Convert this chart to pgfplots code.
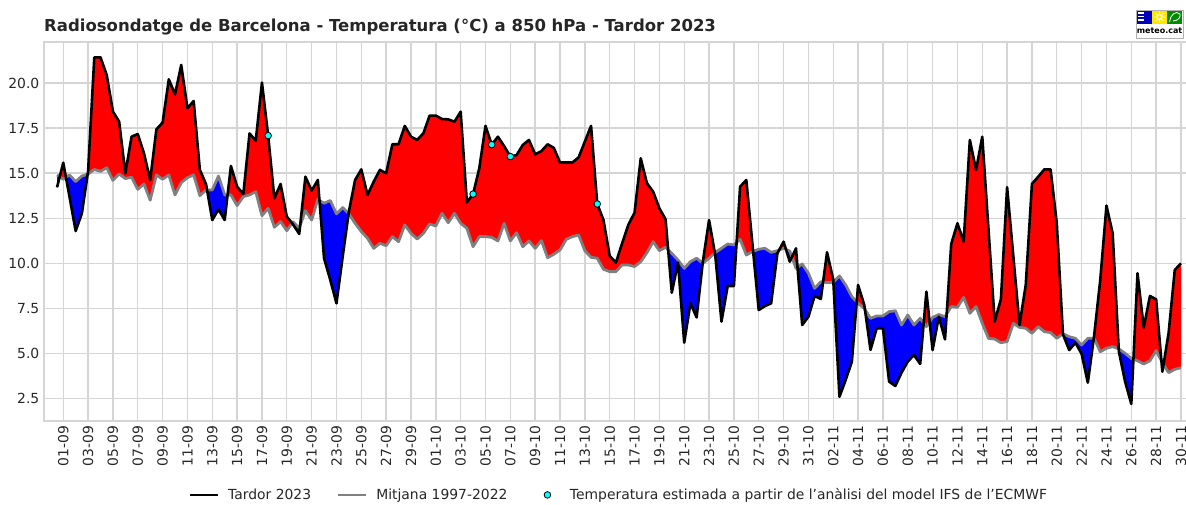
\documentclass[border=0pt]{standalone}
\usepackage{fontspec}
\setmainfont{DejaVu Sans}
\usepackage{pgfplots}
\usepackage{pgfplotstable}
\pgfplotsset{compat=1.18}
\usepgfplotslibrary{fillbetween}
\definecolor{gridc}{HTML}{D5D5D5}
\definecolor{txtc}{HTML}{262626}
\definecolor{meanc}{HTML}{808080}
\definecolor{cyanc}{RGB}{0,255,255}
\definecolor{redc}{RGB}{255,0,0}
\definecolor{bluec}{RGB}{0,0,255}

\pgfplotstableread{
d obs mean
-0.5 14.21 14.90
0.0 15.58 14.66
0.5 13.70 14.90
1.0 11.79 14.53
1.5 12.77 14.84
2.0 15.10 14.95
2.5 21.42 15.20
3.0 21.42 15.10
3.5 20.44 15.30
4.0 18.41 14.60
4.5 17.86 14.95
5.0 14.99 14.70
5.5 17.02 14.77
6.0 17.17 14.10
6.5 16.10 14.40
7.0 14.62 13.50
7.5 17.43 14.90
8.0 17.80 14.66
8.5 20.20 14.90
9.0 19.37 13.79
9.5 21.00 14.47
10.0 18.60 14.75
10.5 19.00 14.90
11.0 15.18 13.75
11.5 14.38 14.07
12.0 12.40 14.07
12.5 12.99 14.84
13.0 12.40 13.79
13.5 15.40 13.79
14.0 14.25 13.20
14.5 13.84 13.70
15.0 17.20 13.79
15.5 16.80 13.97
16.0 20.02 12.64
16.5 17.08 13.05
17.0 13.60 12.00
17.5 14.40 12.31
18.0 12.59 11.81
18.5 12.16 12.30
19.0 11.63 11.95
19.5 14.80 12.92
20.0 14.03 12.40
20.5 14.62 13.55
21.0 10.28 13.33
21.5 9.08 13.48
22.0 7.78 12.74
22.5 10.37 13.09
23.0 12.87 12.74
23.5 14.62 12.22
24.0 15.21 11.76
24.5 13.79 11.39
25.0 14.53 10.83
25.5 15.18 11.11
26.0 14.99 10.98
26.5 16.60 11.48
27.0 16.60 11.20
27.5 17.62 12.13
28.0 17.02 11.66
28.5 16.84 11.35
29.0 17.21 11.66
29.5 18.19 12.18
30.0 18.19 12.07
30.5 18.00 12.77
31.0 17.98 12.25
31.5 17.85 12.77
32.0 18.41 12.22
32.5 13.38 11.94
33.0 13.84 10.92
33.5 15.27 11.48
34.0 17.62 11.48
34.5 16.58 11.44
35.0 17.02 11.24
35.5 16.50 12.22
36.0 15.92 11.24
36.5 16.00 11.70
37.0 16.56 10.92
37.5 16.84 11.24
38.0 16.04 10.83
38.5 16.22 11.26
39.0 16.60 10.31
39.5 16.40 10.50
40.0 15.59 10.74
40.5 15.59 11.33
41.0 15.59 11.48
41.5 15.88 11.57
42.0 16.75 10.70
42.5 17.62 10.33
43.0 13.29 10.28
43.5 12.40 9.67
44.0 10.41 9.54
44.5 10.04 9.54
45.0 11.11 9.91
45.5 12.13 9.91
46.0 12.81 9.82
46.5 15.82 10.09
47.0 14.44 10.59
47.5 13.97 11.20
48.0 13.05 10.70
48.5 12.44 10.89
49.0 8.37 10.55
49.5 10.04 10.18
50.0 5.60 9.72
50.5 7.78 10.09
51.0 7.00 10.28
51.5 10.09 10.00
52.0 12.40 10.28
52.5 10.45 10.60
53.0 6.77 10.83
53.5 8.74 11.07
54.0 8.74 11.02
54.5 14.25 11.33
55.0 14.62 10.46
55.5 11.02 10.65
56.0 7.41 10.78
56.5 7.63 10.83
57.0 7.78 10.61
57.5 10.55 10.70
58.0 11.20 10.83
58.5 10.09 10.68
59.0 10.83 9.72
59.5 6.58 9.96
60.0 7.04 9.45
60.5 8.19 8.61
61.0 8.02 8.98
61.5 10.61 8.93
62.0 9.10 8.95
62.5 2.60 9.30
63.0 3.53 8.80
63.5 4.55 8.15
64.0 8.80 7.78
64.5 7.69 7.50
65.0 5.20 6.95
65.5 6.40 7.08
66.0 6.40 7.08
66.5 3.44 7.32
67.0 3.20 7.37
67.5 3.94 6.58
68.0 4.55 7.13
68.5 4.92 6.58
69.0 4.42 6.95
69.5 8.43 6.49
70.0 5.19 7.00
70.5 7.04 7.16
71.0 5.78 7.04
71.5 11.07 7.60
72.0 12.22 7.56
72.5 11.20 8.11
73.0 16.84 7.23
73.5 15.18 7.60
74.0 17.02 6.67
74.5 11.90 5.84
75.0 6.77 5.80
75.5 8.01 5.60
76.0 14.22 5.66
76.5 10.40 6.67
77.0 6.58 6.45
77.5 8.80 6.40
78.0 14.40 6.12
78.5 14.80 6.49
79.0 15.21 6.21
79.5 15.21 6.16
80.0 12.22 5.84
80.5 6.05 6.10
81.0 5.19 5.93
81.5 5.60 5.84
82.0 4.98 5.47
82.5 3.38 5.84
83.0 5.95 5.85
83.5 9.08 5.10
84.0 13.20 5.29
84.5 11.66 5.38
85.0 5.10 5.25
85.5 3.44 5.01
86.0 2.20 4.73
86.5 9.45 4.60
87.0 6.43 4.42
87.5 8.19 4.60
88.0 8.00 5.16
88.5 3.99 4.49
89.0 6.12 3.94
89.5 9.63 4.12
90.0 10.00 4.21
}\sondes

\pgfplotstableread{
d t
16.5 17.08
33.0 13.84
34.5 16.58
36.0 15.92
43.0 13.29
}\ifs

\begin{document}
\begin{tikzpicture}
\begin{axis}[
  at={(44pt,83pt)}, anchor=south west,
  scale only axis, width=1150pt, height=379pt,
  xmin=-1.55, xmax=91.05, ymin=1.258, ymax=22.27,
  axis line style={draw=gridc, line width=1.7pt},
  grid=major, major grid style={draw=gridc, line width=1.4pt},
  major tick length=0pt,
  xtick={0,2,...,90},
  xticklabels={01-09,03-09,05-09,07-09,09-09,11-09,13-09,15-09,17-09,19-09,21-09,23-09,25-09,27-09,29-09,
    01-10,03-10,05-10,07-10,09-10,11-10,13-10,15-10,17-10,19-10,21-10,23-10,25-10,27-10,29-10,31-10,
    02-11,04-11,06-11,08-11,10-11,12-11,14-11,16-11,18-11,20-11,22-11,24-11,26-11,28-11,30-11},
  ytick={2.5,5,7.5,10,12.5,15,17.5,20},
  yticklabels={2.5,5.0,7.5,10.0,12.5,15.0,17.5,20.0},
  ticklabel style={font=\fontsize{13.9}{16}\selectfont, text=txtc},
  xticklabel style={rotate=90, anchor=east, inner sep=4.5pt},
  yticklabel style={anchor=east, inner sep=4.5pt},
  legend style={at={(0.5,-0.195)}, anchor=center, draw=none, fill=none,
    font=\fontsize{13.9}{16}\selectfont, text=txtc,
    legend columns=3,
    /tikz/every odd column/.append style={column sep=6.5pt},
    /tikz/every even column/.append style={column sep=24pt}},
  legend cell align=left,
]
\addplot[draw=none, name path=obs, forget plot] table[x=d, y=obs]{\sondes};
\addplot[draw=none, name path=mean, forget plot] table[x=d, y=mean]{\sondes};
\addplot[forget plot] fill between[of=obs and mean, split,
   every even segment/.style={fill=bluec},
   every odd segment/.style={fill=redc}];
\addplot[color=meanc, line width=2.8pt, line join=round, forget plot] table[x=d, y=mean]{\sondes};
\addplot[color=black, line width=2.6pt, line join=round, forget plot] table[x=d, y=obs]{\sondes};
\addplot[only marks, mark=*, mark size=3.3pt, mark options={fill=cyanc, draw=black, line width=0.8pt}, forget plot] table[x=d, y=t]{\ifs};

\addlegendimage{black, line width=2.6pt, legend image code/.code={\draw[black, line width=2.6pt] (0pt,0pt) -- (28pt,0pt);}}
\addlegendentry{Tardor 2023}
\addlegendimage{meanc, line width=2.6pt, legend image code/.code={\draw[meanc, line width=2.6pt] (0pt,0pt) -- (28pt,0pt);}}
\addlegendentry{Mitjana 1997-2022}
\addlegendimage{draw=none, legend image code/.code={\path[draw=none, fill=none] (0pt,-1pt) rectangle (28pt,1pt); \path[fill=cyanc, draw=black, line width=0.8pt] (14pt,0pt) circle (3.3pt);}}
\addlegendentry{Temperatura estimada a partir de l'anàlisi del model IFS de l'ECMWF}
\end{axis}

\node[anchor=base west, inner sep=0pt, text=txtc, font=\bfseries\fontsize{16.5}{20}\selectfont] at (44pt,472.5pt)
  {Radiosondatge de Barcelona - Temperatura (°C) a 850 hPa - Tardor 2023};

% meteo.cat logo
\fill[white] (1136.5pt,466pt) rectangle (1183pt,494pt);
\fill[blue!75!black] (1137pt,480pt) rectangle (1152pt,494pt);
\fill[white] (1138pt,490pt) rectangle (1144pt,491.5pt);
\fill[white] (1138pt,486.5pt) rectangle (1144pt,488pt);
\fill[white] (1138pt,483pt) rectangle (1144pt,484.5pt);
\fill[yellow!90!orange] (1152pt,480pt) rectangle (1167pt,494pt);
\fill[white] (1159.5pt,487pt) circle (2.8pt);
\draw[white, line width=0.7pt] (1159.5pt,481.5pt) -- (1159.5pt,492.5pt) (1154pt,487pt) -- (1165pt,487pt)
  (1155.6pt,483.1pt) -- (1163.4pt,490.9pt) (1155.6pt,490.9pt) -- (1163.4pt,483.1pt);
\fill[yellow!90!orange] (1159.5pt,487pt) circle (1.8pt);
\fill[green!55!black] (1167pt,480pt) rectangle (1182pt,494pt);
\draw[white, line width=0.8pt] (1169.5pt,482pt) .. controls (1170pt,489pt) and (1176pt,494pt) .. (1180pt,490pt) .. controls (1181pt,487pt) and (1178pt,483pt) .. (1173pt,483pt);
\node[anchor=center, inner sep=0pt, font=\bfseries\fontsize{8}{9}\selectfont] at (1159.5pt,473pt) {meteo.cat};
\draw[gray!60, line width=0.6pt] (1136.5pt,466pt) rectangle (1183pt,494pt);

\pgfresetboundingbox
\path[use as bounding box] (0pt,0pt) rectangle (1186pt,504pt);
\end{tikzpicture}
\end{document}
